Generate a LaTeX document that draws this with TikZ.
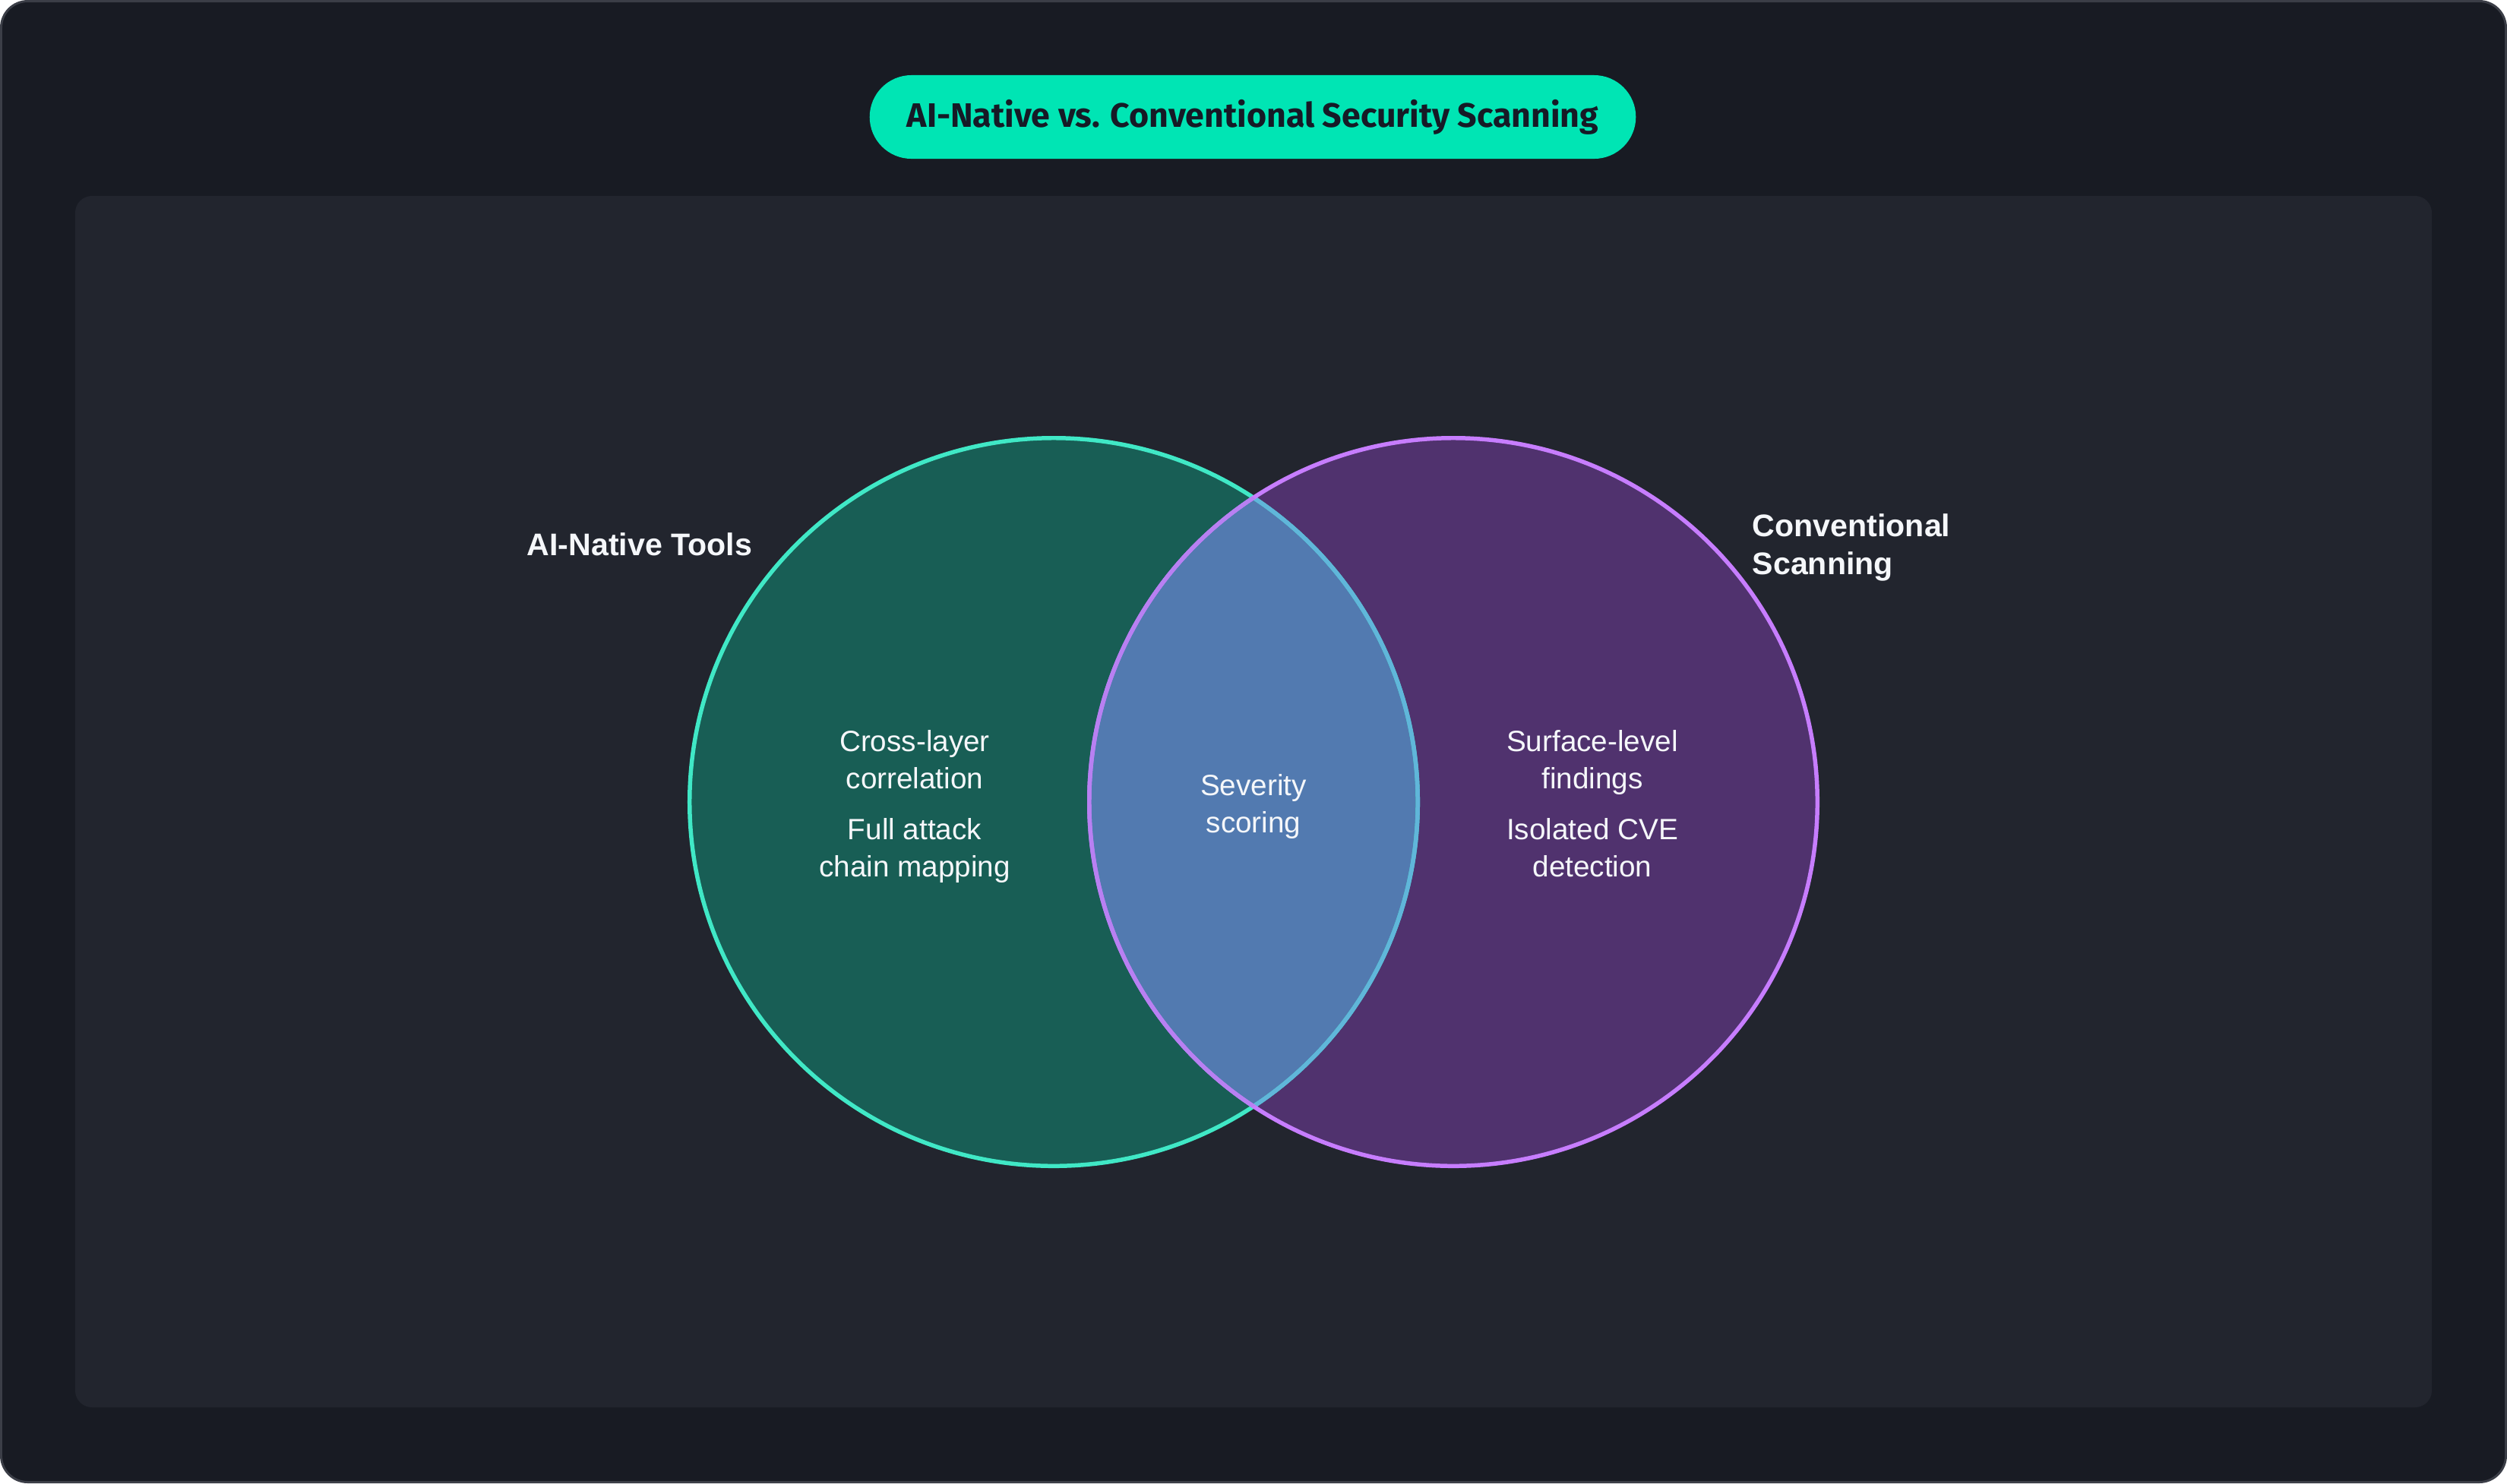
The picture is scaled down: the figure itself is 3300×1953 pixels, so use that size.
\documentclass[tikz,border=0pt]{standalone}
\usepackage{fontspec}
\setmainfont{Liberation Sans}
\newfontfamily\titlefont{Fira Sans}
\usetikzlibrary{positioning}

\definecolor{framebg}{HTML}{181B23}
\definecolor{frameline}{HTML}{3B3E47}
\definecolor{panelbg}{HTML}{22252E}
\definecolor{pillbg}{HTML}{00E5B4}
\definecolor{pilltext}{HTML}{161A26}
\definecolor{aifill}{HTML}{185E55}
\definecolor{ailine}{HTML}{40E8C6}
\definecolor{convfill}{HTML}{50326E}
\definecolor{convline}{HTML}{C77DFF}
\definecolor{bothfill}{HTML}{527AB0}
\definecolor{bothailine}{HTML}{60B6DA}
\definecolor{bothconvline}{HTML}{B880F2}
\definecolor{lighttext}{HTML}{F5F7FA}

\tikzset{
  itemtext/.style={text=lighttext, align=center, inner sep=0pt, anchor=base,
                   font=\fontsize{11}{13.8}\selectfont},
  settext/.style={text=lighttext, inner sep=0pt, anchor=base west,
                  font=\fontsize{11.7}{14.2}\selectfont\bfseries},
}

\begin{document}
\begin{tikzpicture}[x=0.01cm, y=-0.01cm]
  \useasboundingbox (0,0) rectangle (3300,1953);

  % frame and panel
  \draw[frameline, fill=framebg, line width=0.85pt, rounded corners=0.35cm]
    (1.5,1.5) rectangle (3298.5,1951.5);
  \fill[panelbg, rounded corners=0.22cm] (99,258) rectangle (3201,1853);

  % title
  \node[fill=pillbg, rounded corners=0.55cm, minimum width=10.08cm, minimum height=1.1cm,
        text=pilltext, font=\titlefont\bfseries\fontsize{12.7}{14}\selectfont]
    (t) at (1649,154) {AI-Native vs. Conventional Security Scanning};

  % circles
  \fill[aifill] (1387,1056) circle[radius=4.79cm];
  \fill[convfill] (1913,1056) circle[radius=4.79cm];
  \begin{scope}
    \clip (1387,1056) circle[radius=4.79cm];
    \fill[bothfill] (1913,1056) circle[radius=4.79cm];
  \end{scope}
  \draw[ailine, line width=1.56pt] (1387,1056) circle[radius=4.79cm];
  \begin{scope}
    \clip (1913,1056) circle[radius=4.79cm];
    \draw[bothailine, line width=1.56pt] (1387,1056) circle[radius=4.79cm];
  \end{scope}
  \draw[convline, line width=1.56pt] (1913,1056) circle[radius=4.79cm];
  \begin{scope}
    \clip (1387,1056) circle[radius=4.79cm];
    \draw[bothconvline, line width=1.56pt] (1913,1056) circle[radius=4.79cm];
  \end{scope}

  % set labels
  \node[settext] (n1) at (693,731) {AI-Native Tools};
  \node[settext, align=left] (n2) at (2306,756) {Conventional\\Scanning};

  % items
  \node[itemtext] (a1) at (1204,1038) {Cross-layer\\correlation};
  \node[itemtext] (a2) at (1204,1154) {Full attack\\chain mapping};
  \node[itemtext] (b1) at (1650,1096) {Severity\\scoring};
  \node[itemtext] (c1) at (2096,1038) {Surface-level\\findings};
  \node[itemtext] (c2) at (2096,1154) {Isolated CVE\\detection};
\end{tikzpicture}
\end{document}
